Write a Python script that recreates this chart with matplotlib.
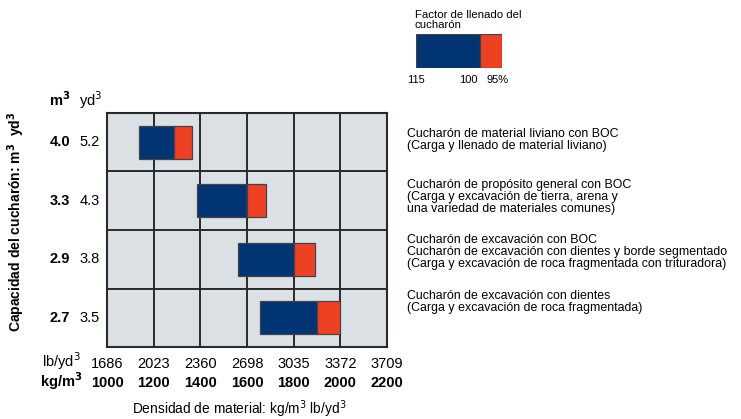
import numpy as np
import matplotlib.pyplot as plt
import matplotlib.transforms as mtransforms

plt.rcParams['font.family'] = ['Liberation Sans', 'DejaVu Sans']

# bucket capacities (top to bottom)
cap_m3 = ["4.0", "3.3", "2.9", "2.7"]
cap_yd3 = ["5.2", "4.3", "3.8", "3.5"]
# material density in kg/m3 at 115%, 100% and 95% fill factor
dens_115 = [1136, 1387, 1561, 1654]
dens_100 = [1288, 1601, 1800, 1898]
dens_95 = [1364, 1682, 1892, 2000]

kg_ticks = [1000, 1200, 1400, 1600, 1800, 2000, 2200]
lb_ticks = ["1686", "2023", "2360", "2698", "3035", "3372", "3709"]

descr = [
    "Cucharón de material liviano con BOC\n(Carga y llenado de material liviano)",
    "Cucharón de propósito general con BOC\n(Carga y excavación de tierra, arena y\nuna variedad de materiales comunes)",
    "Cucharón de excavación con BOC\nCucharón de excavación con dientes y borde segmentado\n(Carga y excavación de roca fragmentada con trituradora)",
    "Cucharón de excavación con dientes\n(Carga y excavación de roca fragmentada)",
]
descr_y = [140, 197, 252, 302]  # pixel centre of each text block

blue = "#003473"
red = "#ee4023"
grey = "#dbe0e5"
dark = "#2a2a2a"

W, H = 741, 419
fig = plt.figure(figsize=(W / 100, H / 100), dpi=100)
ax = fig.add_axes([107 / W, 1 - 347 / H, 280 / W, 234 / H])
ax.set_facecolor(grey)

n = len(cap_m3)
ypos = np.arange(n)
low = np.array(dens_115)
mid = np.array(dens_100)
high = np.array(dens_95)
ax.barh(ypos, mid - low, left=low, height=0.57, color=blue, edgecolor="#444444", linewidth=0.9, zorder=3)
ax.barh(ypos, high - mid, left=mid, height=0.57, color=red, edgecolor="#444444", linewidth=0.9, zorder=3)

ax.set_xlim(kg_ticks[0], kg_ticks[-1])
ax.set_ylim(n - 0.5, -0.5)
ax.set_xticks(kg_ticks)
ax.set_yticks(np.arange(n - 1) + 0.5)
ax.grid(True, color=dark, linewidth=1.4, zorder=1)
ax.set_axisbelow(True)
ax.tick_params(length=0, labelbottom=False, labelleft=False)
for s in ax.spines.values():
    s.set_color(dark)
    s.set_linewidth(1.5)

fs = 10.5
# y labels
ty = mtransforms.blended_transform_factory(fig.transFigure, ax.transData)
for i in range(n):
    fig.text(60 / W, 0, cap_m3[i], transform=ty, fontsize=fs, fontweight="bold",
             ha="center", va="center").set_y(ypos[i])
    fig.text(90 / W, 0, cap_yd3[i], transform=ty, fontsize=fs,
             ha="center", va="center").set_y(ypos[i])
fig.text(60 / W, 1 - 100 / H, "m$^\\mathbf{3}$", fontsize=fs, fontweight="bold", ha="center", va="center")
fig.text(91 / W, 1 - 100 / H, "yd$^3$", fontsize=fs, ha="center", va="center")
fig.text(16 / W, 1 - 222 / H, "Capacidad del cucharón: m$^\\mathbf{3}$  yd$^\\mathbf{3}$", fontsize=10,
         fontweight="bold", rotation=90, ha="center", va="center")

# x labels
tx = mtransforms.blended_transform_factory(ax.transData, fig.transFigure)
for k, lb in zip(kg_ticks, lb_ticks):
    fig.text(k, 1 - 364 / H, lb, transform=tx, fontsize=fs, ha="center", va="center")
    fig.text(k, 1 - 383 / H, str(k), transform=tx, fontsize=fs, fontweight="bold", ha="center", va="center")
fig.text(81 / W, 1 - 367 / H, "lb/yd$^3$", fontsize=fs, ha="right", va="baseline")
fig.text(83 / W, 1 - 387 / H, "kg/m$^\\mathbf{3}$", fontsize=fs, fontweight="bold", ha="right", va="baseline")
fig.text(239 / W, 1 - 414 / H, "Densidad de material: kg/m$^3$ lb/yd$^3$", fontsize=9.9,
         ha="center", va="baseline")

# descriptions
for t, yy in zip(descr, descr_y):
    fig.text(407 / W, 1 - yy / H, t, fontsize=8.95, ha="left", va="center", linespacing=1.05)

# legend key
lax = fig.add_axes([416 / W, 1 - 68 / H, 86 / W, 34 / H])
key_fill = [115, 100, 95]
lax.barh([0], [key_fill[0] - key_fill[1]], left=key_fill[1], height=1, color=blue, edgecolor="#444444", linewidth=0.9)
lax.barh([0], [key_fill[1] - key_fill[2]], left=key_fill[2], height=1, color=red, edgecolor="#444444", linewidth=0.9)
lax.set_xlim(key_fill[0], key_fill[2] - 0.1)
lax.set_ylim(-0.5, 0.5)
lax.axis("off")
fig.text(415 / W, 1 - 20 / H, "Factor de llenado del\ncucharón", fontsize=8.2, ha="left", va="center",
         linespacing=0.95)
for v, xp in zip(key_fill, [416, 468, 498]):
    lab = str(v) + ("%" if v == key_fill[-1] else "")
    fig.text(xp / W, 1 - 80 / H, lab, fontsize=8, ha="center", va="center")

fig.savefig("out.png", dpi=100)
